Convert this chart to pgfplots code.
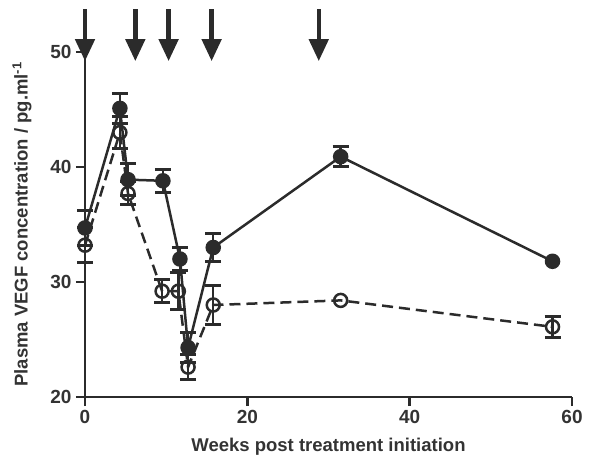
\documentclass[border=0pt]{standalone}
\usepackage{fontspec}
\setmainfont{Liberation Sans}
\usepackage{pgfplots}
\pgfplotsset{compat=1.18}
\usetikzlibrary{arrows.meta}
\definecolor{ink}{HTML}{2B2B2B}
\definecolor{txt}{HTML}{333333}

% filled series (mean, SEM)
\pgfplotstableread{
x y e
0 34.7 1.5
4.3 45.1 1.3
5.3 38.9 1.4
9.6 38.8 1.0
11.7 32.0 1.0
12.7 24.3 1.3
15.8 33.0 1.2
31.5 40.9 0.9
57.6 31.8 0
}\filled

% open series (mean, SEM)
\pgfplotstableread{
x y e
0 33.2 1.5
4.3 43.0 1.4
5.3 37.7 1.0
9.5 29.2 1.0
11.5 29.2 1.6
12.7 22.6 1.1
15.8 28.0 1.7
31.5 28.4 0
57.6 26.1 0.9
}\openser

% treatment arrows
\pgfplotstableread{
x y v
0 53.7 -4.5
6.2 53.7 -4.5
10.3 53.7 -4.5
15.6 53.7 -4.5
28.8 53.7 -4.5
}\arrowsdata

\begin{document}
\begin{tikzpicture}
\begin{axis}[
  scale only axis,
  width=487pt, height=345pt,
  xmin=0, xmax=60, ymin=20, ymax=50,
  axis x line=bottom, axis y line=left,
  axis line style={-, ink, line width=2.5pt},
  xtick={0,20,40,60}, ytick={20,30,40,50},
  tick align=outside,
  major tick length=9pt,
  tick style={ink, line width=2.5pt},
  /pgf/number format/assume math mode=true,
  ticklabel style={font=\bfseries\fontsize{19}{19}\selectfont, text=txt},
  xticklabel style={yshift=-1pt},
  yticklabel style={xshift=-1pt},
  xlabel={Weeks post treatment initiation},
  ylabel={Plasma VEGF concentration / pg.ml\textsuperscript{-1}},
  label style={font=\bfseries\fontsize{18.5}{18.5}\selectfont, text=txt},
  xlabel style={at={(axis description cs:0.5,0)}, anchor=north, yshift=-38pt},
  ylabel style={at={(axis description cs:0,0.5)}, anchor=south, yshift=50pt},
  clip=false,
]
% error bars (drawn first, only where SEM > 0)
\addplot[forget plot, draw=none, mark=none,
  restrict expr to domain={\thisrow{e}}{0.01:100},
  error bars/.cd, y dir=both, y explicit,
  error bar style={ink, line width=2.5pt, solid},
  error mark options={ink, rotate=90, line width=3pt, mark size=8pt, solid}]
  table[x=x, y=y, y error=e]{\filled};
\addplot[forget plot, draw=none, mark=none,
  restrict expr to domain={\thisrow{e}}{0.01:100},
  error bars/.cd, y dir=both, y explicit,
  error bar style={ink, line width=2.5pt, solid},
  error mark options={ink, rotate=90, line width=3pt, mark size=8pt, solid}]
  table[x=x, y=y, y error=e]{\openser};
% series
\addplot[ink, line width=2.5pt, mark=*, mark size=6.5pt, mark options={solid, fill=ink}]
  table[x=x, y=y]{\filled};
\addplot[ink, line width=2.5pt, dash pattern=on 11pt off 6pt, mark=o, mark size=6.5pt,
  mark options={solid, line width=2.5pt}]
  table[x=x, y=y]{\openser};
\addplot[ink, line width=4.5pt, -{Triangle[width=19pt,length=22pt]},
  quiver={u=0, v=\thisrow{v}}] table[x=x, y=y]{\arrowsdata};
\end{axis}
\path (current axis.south west) ++(-85pt,-68pt) coordinate (bbA);
\path (current axis.north east) ++(34pt,52pt) coordinate (bbB);
\path (bbA) rectangle (bbB);
\end{tikzpicture}
\end{document}
